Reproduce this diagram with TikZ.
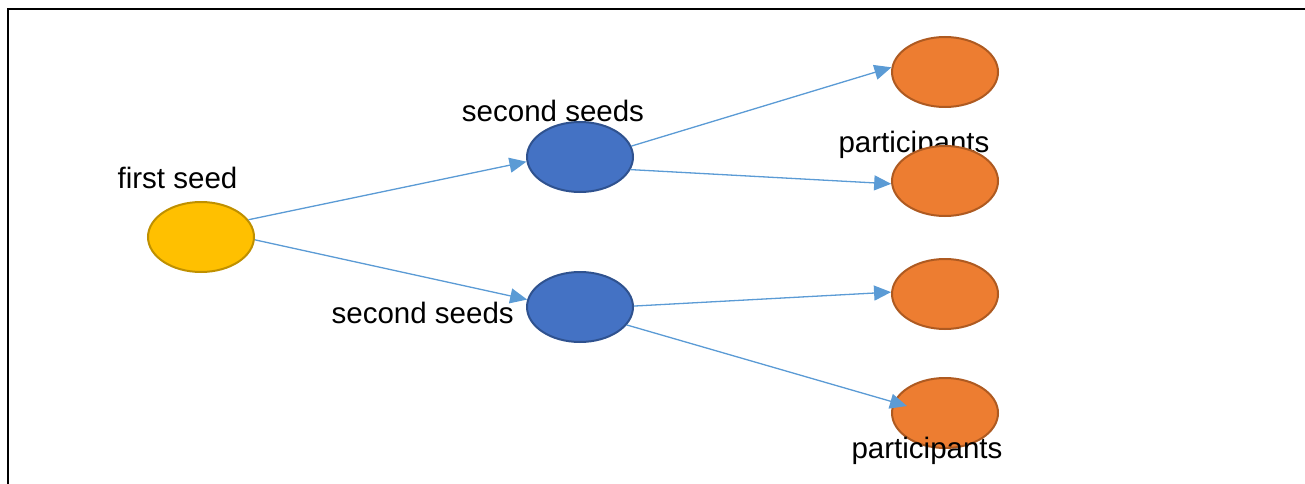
\documentclass[tikz,border=0pt]{standalone}
\usepackage{fontspec}
\setmainfont{Liberation Sans}
\usetikzlibrary{shapes.geometric,arrows.meta}
\definecolor{seedgold}{HTML}{FFC000}
\definecolor{seedgoldline}{HTML}{BF9000}
\definecolor{seedblue}{HTML}{4472C4}
\definecolor{seedblueline}{HTML}{2F528F}
\definecolor{partorange}{HTML}{ED7D31}
\definecolor{partorangeline}{HTML}{AE5A21}
\definecolor{linkblue}{HTML}{5B9BD5}
\tikzset{
  blob/.style={ellipse, minimum width=106pt, minimum height=70pt, inner sep=0pt, line width=2pt},
  firstblob/.style={blob, fill=seedgold, draw=seedgoldline},
  secondblob/.style={blob, fill=seedblue, draw=seedblueline},
  partblob/.style={blob, fill=partorange, draw=partorangeline},
  lbl/.style={anchor=base, inner sep=0pt, font=\fontsize{29.5}{34}\selectfont},
  link/.style={draw=linkblue, line width=1.3pt, -{Triangle[length=17pt,width=15pt]}, fill=linkblue}
}
\begin{document}
\begin{tikzpicture}[x=1pt, y=-1pt]
\useasboundingbox (0,0) rectangle (1305,484);
% frame edges
\draw[line width=2.6pt] (8,484) -- (8,9) -- (1305,9);
% labels lying under the shapes
\node[lbl] (l2) at (553,121.5) {second seeds};
\node[lbl] (l4) at (914,152) {participants};
% shapes
\node[firstblob] (fs) at (201,237) {};
\node[secondblob] (b1) at (580,157) {};
\node[secondblob] (b2) at (580,307) {};
\node[partblob] (p1) at (945,72) {};
\node[partblob] (p2) at (945,181) {};
\node[partblob] (p3) at (945,294) {};
\node[partblob] (p4) at (945,413) {};
\coordinate (p4in) at (907,406);
% labels over the shapes
\node[lbl] (l1) at (177.5,188) {first seed};
\node[lbl] (l3) at (422.7,323.5) {second seeds};
\node[lbl] (l5) at (927,458) {participants};
% links
\draw[link] (fs.20) -- (b1.185);
\draw[link] (fs.357) -- (b2.172);
\draw[link] (b1.12) -- (p1.175);
\draw[link] (b1.346) -- (p2.183);
\draw[link] (b2.1) -- (p3.178);
\draw[link] (b2.339) -- (p4in);
\end{tikzpicture}
\end{document}
